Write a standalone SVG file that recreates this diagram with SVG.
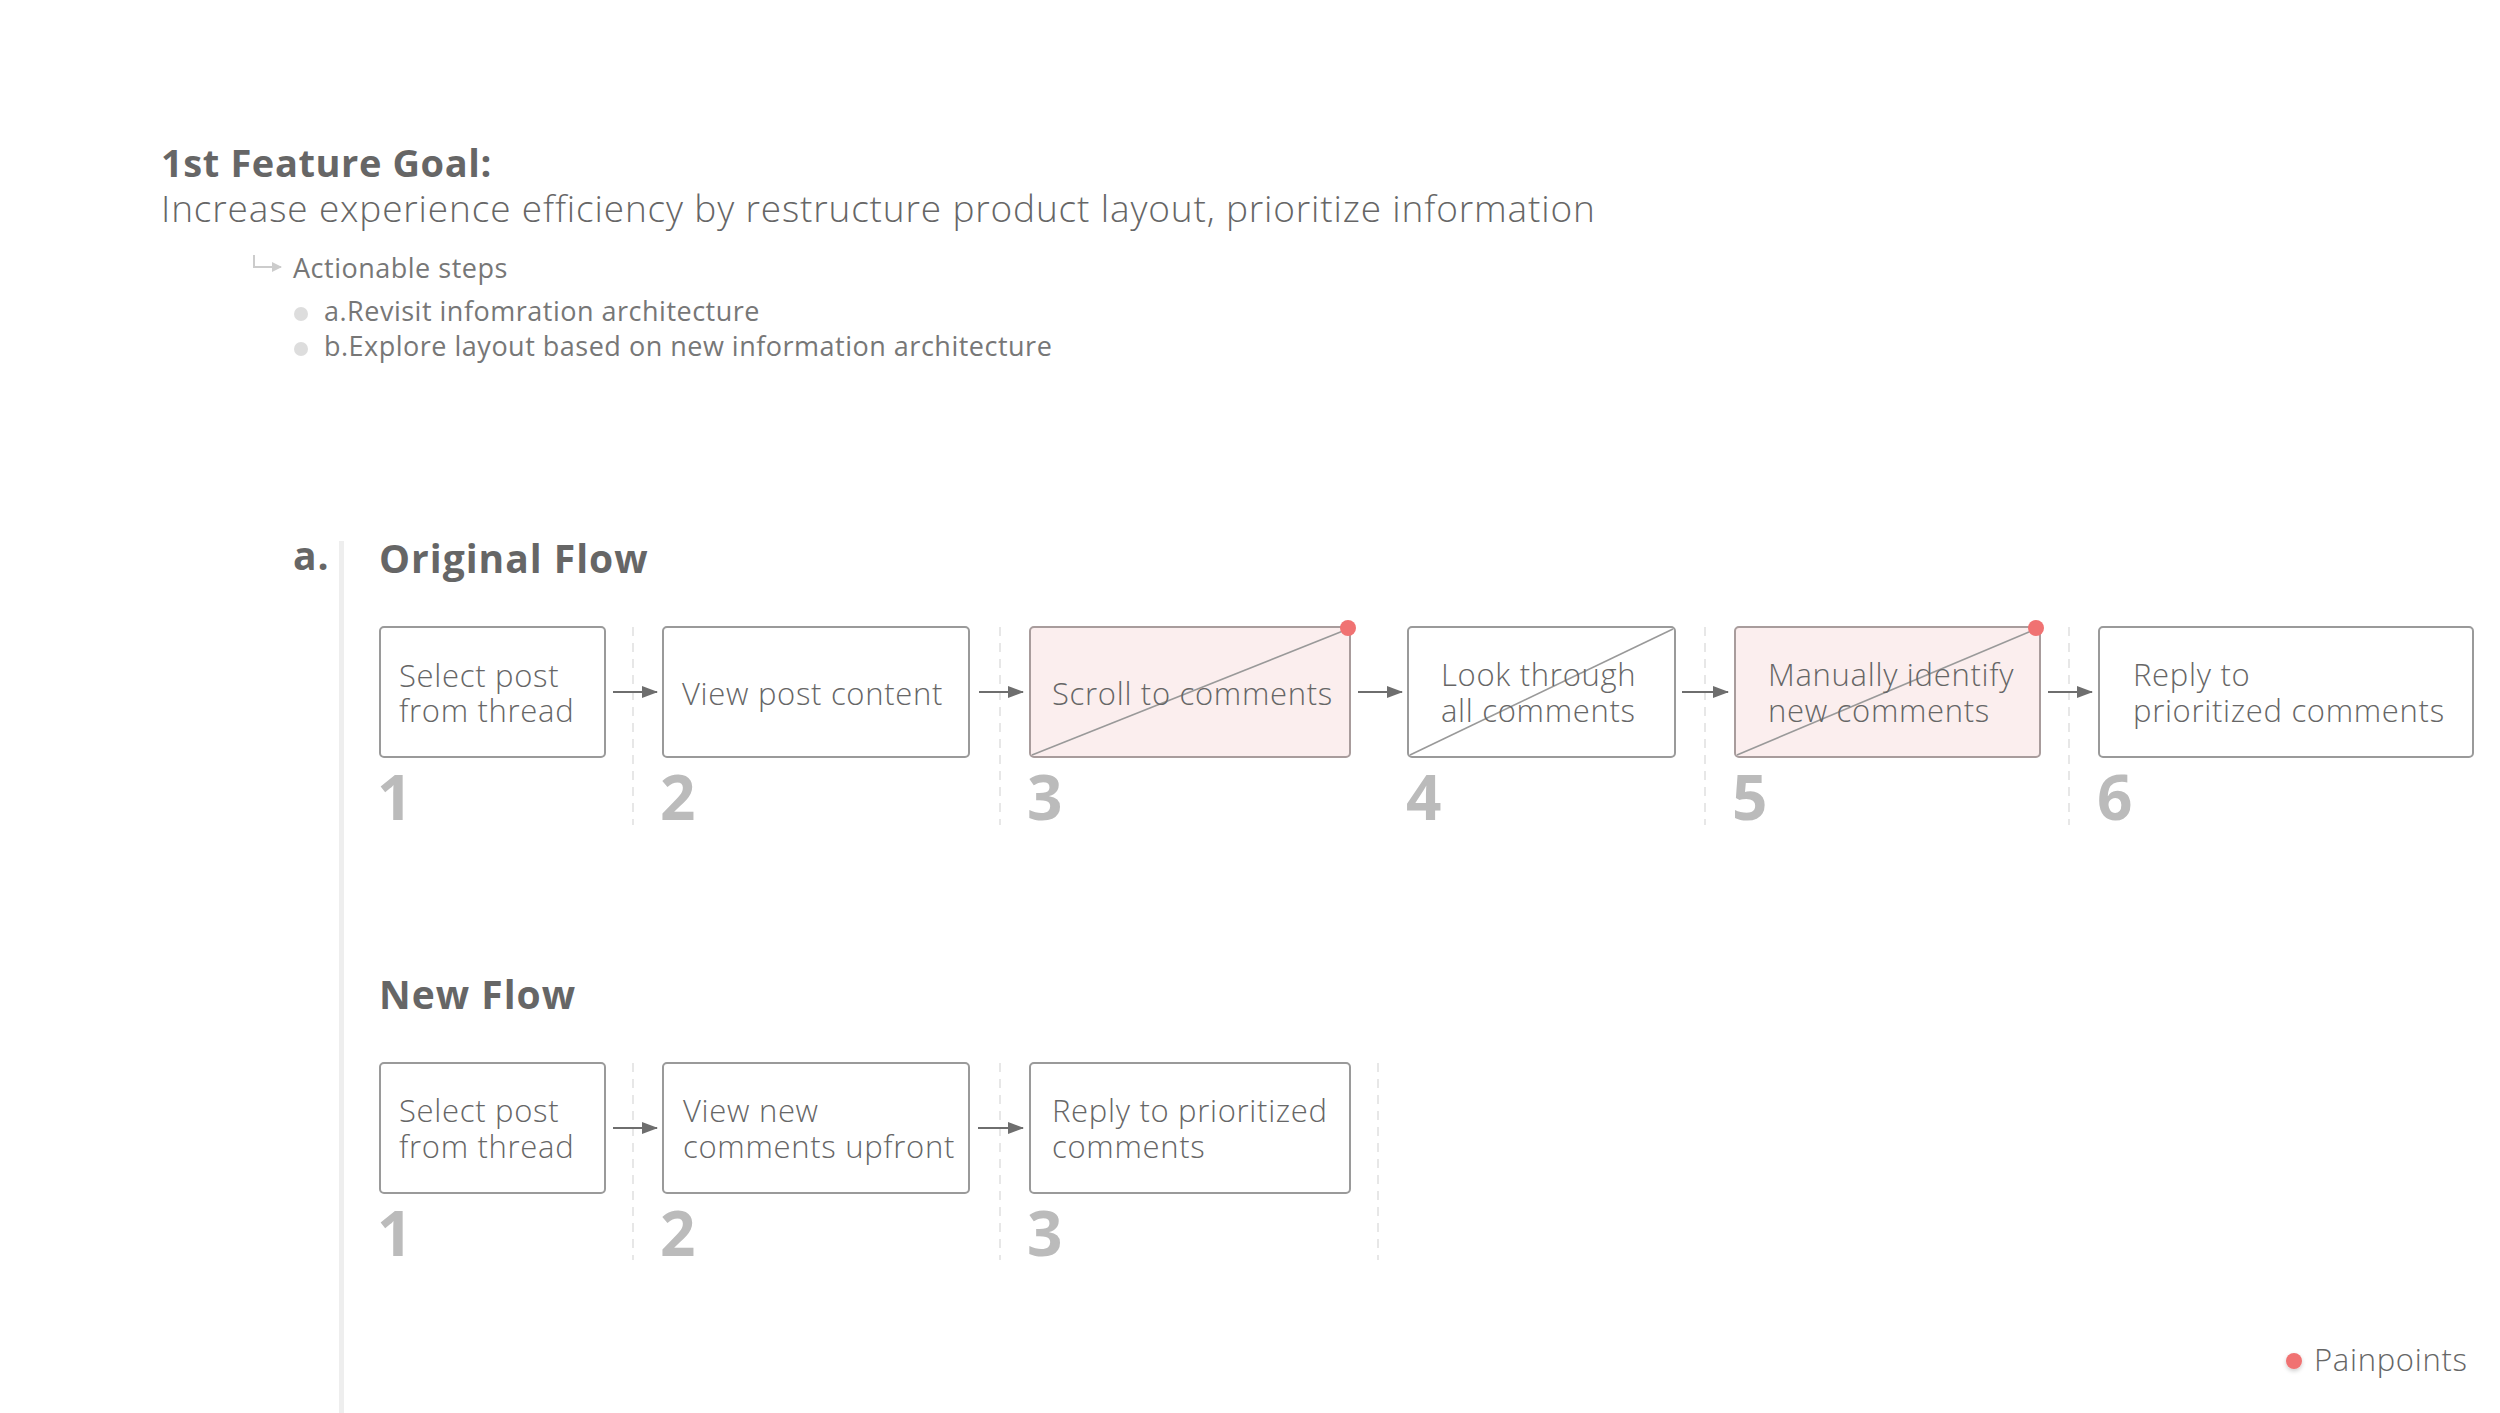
<svg xmlns="http://www.w3.org/2000/svg" width="2500" height="1413" viewBox="0 0 2500 1413">
<defs>
<marker id="ah" markerWidth="16" markerHeight="12" refX="15" refY="6" orient="auto" markerUnits="userSpaceOnUse">
<path d="M0,0 L16,6 L0,12 Z" fill="#6e6e6e"/>
</marker>
<marker id="ah2" markerWidth="10" markerHeight="10" refX="9" refY="5" orient="auto" markerUnits="userSpaceOnUse">
<path d="M0,0 L10,5 L0,10 Z" fill="#cccccc"/>
</marker>
<filter id="sh" x="-50%" y="-50%" width="200%" height="200%">
<feDropShadow dx="0" dy="2" stdDeviation="2" flood-color="#000" flood-opacity="0.2"/>
</filter>
</defs>
<style>
.h1{font-family:"Open Sans","Liberation Sans",sans-serif;font-weight:700;font-size:38px;letter-spacing:0.6px;fill:#666666}
.h2{font-family:"Open Sans","Liberation Sans",sans-serif;font-weight:300;font-size:37px;letter-spacing:0.85px;fill:#666666}
.sm{font-family:"Open Sans","Liberation Sans",sans-serif;font-weight:400;font-size:27px;letter-spacing:0.5px;fill:#777777}
.sec{font-family:"Open Sans","Liberation Sans",sans-serif;font-weight:700;font-size:39px;letter-spacing:1px;fill:#666666}
.box{fill:#ffffff;stroke:#9a9a9a;stroke-width:2}
.pain{fill:#fbeeee;stroke:#a89c9c;stroke-width:2}
.bt{font-family:"Open Sans","Liberation Sans",sans-serif;font-weight:300;font-size:31px;letter-spacing:0.7px;fill:#666666}
.num{font-family:"Open Sans","Liberation Sans",sans-serif;font-weight:700;font-size:62px;fill:#bbbbbb}
.diag{stroke:#999999;stroke-width:1.6}
.dash{stroke:#e2e2e2;stroke-width:1.6;stroke-dasharray:9 7}
.arr{stroke:#6e6e6e;stroke-width:2;marker-end:url(#ah)}
.dot{fill:#f07272}
</style>
<rect width="2500" height="1413" fill="#ffffff"/>

<g id="header">
<text class="h1" x="161" y="177">1st Feature Goal:</text>
<text class="h2" x="161" y="222">Increase experience efficiency by restructure product layout, prioritize information</text>
<path d="M254,255 V267 H281" fill="none" stroke="#cccccc" stroke-width="2" marker-end="url(#ah2)"/>
<text class="sm" x="293" y="278">Actionable steps</text>
<circle cx="301" cy="314" r="7" fill="#dddddd"/>
<text class="sm" x="324" y="321">a.Revisit infomration architecture</text>
<circle cx="301" cy="349" r="7" fill="#dddddd"/>
<text class="sm" x="324" y="356">b.Explore layout based on new information architecture</text>
</g>

<g id="section-a">
<text class="sec" x="293" y="570">a.</text>
<rect x="339" y="541" width="5" height="872" fill="#eeeeee"/>
<text class="sec" x="379" y="573">Original Flow</text>
<text class="sec" x="379" y="1009">New Flow</text>
</g>

<g id="separators">
<line class="dash" x1="633" y1="627" x2="633" y2="825"/>
<line class="dash" x1="1000" y1="627" x2="1000" y2="825"/>
<line class="dash" x1="1705" y1="627" x2="1705" y2="825"/>
<line class="dash" x1="2069" y1="627" x2="2069" y2="825"/>
<line class="dash" x1="633" y1="1063" x2="633" y2="1260"/>
<line class="dash" x1="1000" y1="1063" x2="1000" y2="1260"/>
<line class="dash" x1="1378" y1="1063" x2="1378" y2="1260"/>
</g>

<g id="connectors">
<line class="arr" x1="613" y1="692" x2="657" y2="692"/>
<line class="arr" x1="979" y1="692" x2="1023" y2="692"/>
<line class="arr" x1="1358" y1="692" x2="1402" y2="692"/>
<line class="arr" x1="1682" y1="692" x2="1728" y2="692"/>
<line class="arr" x1="2048" y1="692" x2="2092" y2="692"/>
<line class="arr" x1="613" y1="1128" x2="657" y2="1128"/>
<line class="arr" x1="978" y1="1128" x2="1023" y2="1128"/>
</g>

<g id="o1">
<rect class="box" x="380" y="627" width="225" height="130" rx="4"/>
<text class="bt" x="399" y="687">Select post</text>
<text class="bt" x="399" y="722">from thread</text>
<text class="num" x="377" y="820">1</text>
</g>
<g id="o2">
<rect class="box" x="663" y="627" width="306" height="130" rx="4"/>
<text class="bt" x="682" y="705">View post content</text>
<text class="num" x="660" y="820">2</text>
</g>
<g id="o3">
<rect class="pain" x="1030" y="627" width="320" height="130" rx="4"/>
<line class="diag" x1="1032" y1="755" x2="1348" y2="629"/>
<text class="bt" x="1052" y="705">Scroll to comments</text>
<circle class="dot" cx="1348" cy="628" r="8"/>
<text class="num" x="1027" y="820">3</text>
</g>
<g id="o4">
<rect class="box" x="1408" y="627" width="267" height="130" rx="4"/>
<line class="diag" x1="1410" y1="755" x2="1673" y2="629"/>
<text class="bt" x="1441" y="686">Look through</text>
<text class="bt" x="1441" y="722">all comments</text>
<text class="num" x="1406" y="820">4</text>
</g>
<g id="o5">
<rect class="pain" x="1735" y="627" width="305" height="130" rx="4"/>
<line class="diag" x1="1737" y1="755" x2="2036" y2="629"/>
<text class="bt" x="1768" y="686">Manually identify</text>
<text class="bt" x="1768" y="722">new comments</text>
<circle class="dot" cx="2036" cy="628" r="8"/>
<text class="num" x="1732" y="820">5</text>
</g>
<g id="o6">
<rect class="box" x="2099" y="627" width="374" height="130" rx="4"/>
<text class="bt" x="2133" y="686">Reply to</text>
<text class="bt" x="2133" y="722">prioritized comments</text>
<text class="num" x="2097" y="820">6</text>
</g>

<g id="n1">
<rect class="box" x="380" y="1063" width="225" height="130" rx="4"/>
<text class="bt" x="399" y="1122">Select post</text>
<text class="bt" x="399" y="1158">from thread</text>
<text class="num" x="377" y="1256">1</text>
</g>
<g id="n2">
<rect class="box" x="663" y="1063" width="306" height="130" rx="4"/>
<text class="bt" x="683" y="1122">View new</text>
<text class="bt" x="683" y="1158">comments upfront</text>
<text class="num" x="660" y="1256">2</text>
</g>
<g id="n3">
<rect class="box" x="1030" y="1063" width="320" height="130" rx="4"/>
<text class="bt" x="1052" y="1122">Reply to prioritized</text>
<text class="bt" x="1052" y="1158">comments</text>
<text class="num" x="1027" y="1256">3</text>
</g>

<g id="legend">
<circle class="dot" cx="2294" cy="1361" r="8" filter="url(#sh)"/>
<text class="bt" x="2314" y="1371">Painpoints</text>
</g>
</svg>
